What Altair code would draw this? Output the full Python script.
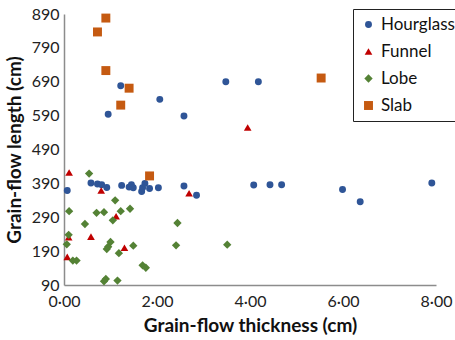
import altair as alt
import pandas as pd

hour_x = [0.07, 0.58, 0.72, 0.81, 0.92, 1.24, 1.40, 1.45, 1.49, 1.67, 1.69, 1.74, 1.84, 2.03, 2.58, 2.85,
          4.08, 4.43, 4.68, 5.99, 6.37, 7.91, 1.22, 2.06, 0.95, 2.58, 3.48, 4.18]
hour_y = [369, 391, 388, 386, 378, 384, 379, 386, 377, 366, 377, 390, 375, 377, 382, 355,
          385, 386, 386, 372, 336, 391, 678, 638, 594, 589, 690, 690]

fun_x = [0.11, 0.80, 1.12, 2.69, 0.10, 0.58, 1.30, 0.07, 3.95]
fun_y = [422, 369, 293, 361, 231, 233, 200, 173, 555]

lobe_x = [0.54, 0.11, 1.10, 0.86, 1.05, 1.22, 1.42, 0.45, 2.44, 0.10, 0.06, 0.70, 1.00, 0.95, 0.92, 1.49,
          1.18, 2.41, 3.51, 0.19, 0.27, 1.69, 1.76, 0.86, 0.90, 1.15]
lobe_y = [419, 308, 340, 305, 281, 308, 315, 270, 273, 238, 210, 303, 217, 203, 196, 206,
          184, 207, 209, 162, 162, 148, 141, 101, 108, 103]

slab_x = [0.90, 0.72, 0.90, 1.40, 1.22, 5.53, 1.84]
slab_y = [878, 837, 723, 671, 621, 701, 412]

series = ["Hourglass", "Funnel", "Lobe", "Slab"]
colors = ["#2F5597", "#C00000", "#548235", "#C55A11"]
shapes = ["circle", "triangle-up", "diamond", "square"]
sizes = [48, 80, 62, 48]

rows = []
for name, xs, ys in zip(series, [hour_x, fun_x, lobe_x, slab_x], [hour_y, fun_y, lobe_y, slab_y]):
    for x, y in zip(xs, ys):
        rows.append({"type": name, "thickness": x, "length": y})
df = pd.DataFrame(rows)

FONT = "Lato"

chart = alt.Chart(df).mark_point(filled=True, opacity=1).encode(
    x=alt.X("thickness:Q",
            scale=alt.Scale(domain=[0, 8], nice=False, zero=False),
            axis=alt.Axis(title="Grain-flow thickness (cm)", values=[0, 2, 4, 6, 8],
                          labelExpr="replace(format(datum.value, '.2f'), '.', '·')",
                          labelFlush=False,
                          grid=False, ticks=False, domainColor="#8c8c8c", domainWidth=1.5,
                          labelFont=FONT, labelFontSize=16, labelColor="#222222", labelPadding=8,
                          titleFont=FONT, titleFontSize=19, titleFontWeight="bold",
                          titleColor="#111111", titlePadding=7)),
    y=alt.Y("length:Q",
            scale=alt.Scale(domain=[90, 890], nice=False, zero=False),
            axis=alt.Axis(title="Grain-flow length (cm)", values=[90, 190, 290, 390, 490, 590, 690, 790, 890],
                          labelFlush=False,
                          grid=False, ticks=False, domainColor="#8c8c8c", domainWidth=1.5,
                          labelFont=FONT, labelFontSize=16, labelColor="#222222", labelPadding=5,
                          titleFont=FONT, titleFontSize=19, titleFontWeight="bold",
                          titleColor="#111111", titlePadding=7)),
    color=alt.Color("type:N", scale=alt.Scale(domain=series, range=colors),
                    legend=alt.Legend(title=None, orient="none", legendX=289, legendY=-5,
                                      strokeColor="#222222", padding=7, rowPadding=9,
                                      symbolSize=30, labelFont=FONT, labelFontSize=17,
                                      labelColor="#111111", symbolStrokeWidth=0)),
    shape=alt.Shape("type:N", scale=alt.Scale(domain=series, range=shapes)),
    size=alt.Size("type:N", scale=alt.Scale(domain=series, range=sizes), legend=None),
).properties(
    width=372, height=271,
    padding={"left": 64, "top": 14, "right": 19, "bottom": 55},
    autosize=alt.AutoSizeParams(type="none"),
).configure_view(stroke=None)

chart.save("out.html", embed_options={"renderer": "svg", "actions": False})
